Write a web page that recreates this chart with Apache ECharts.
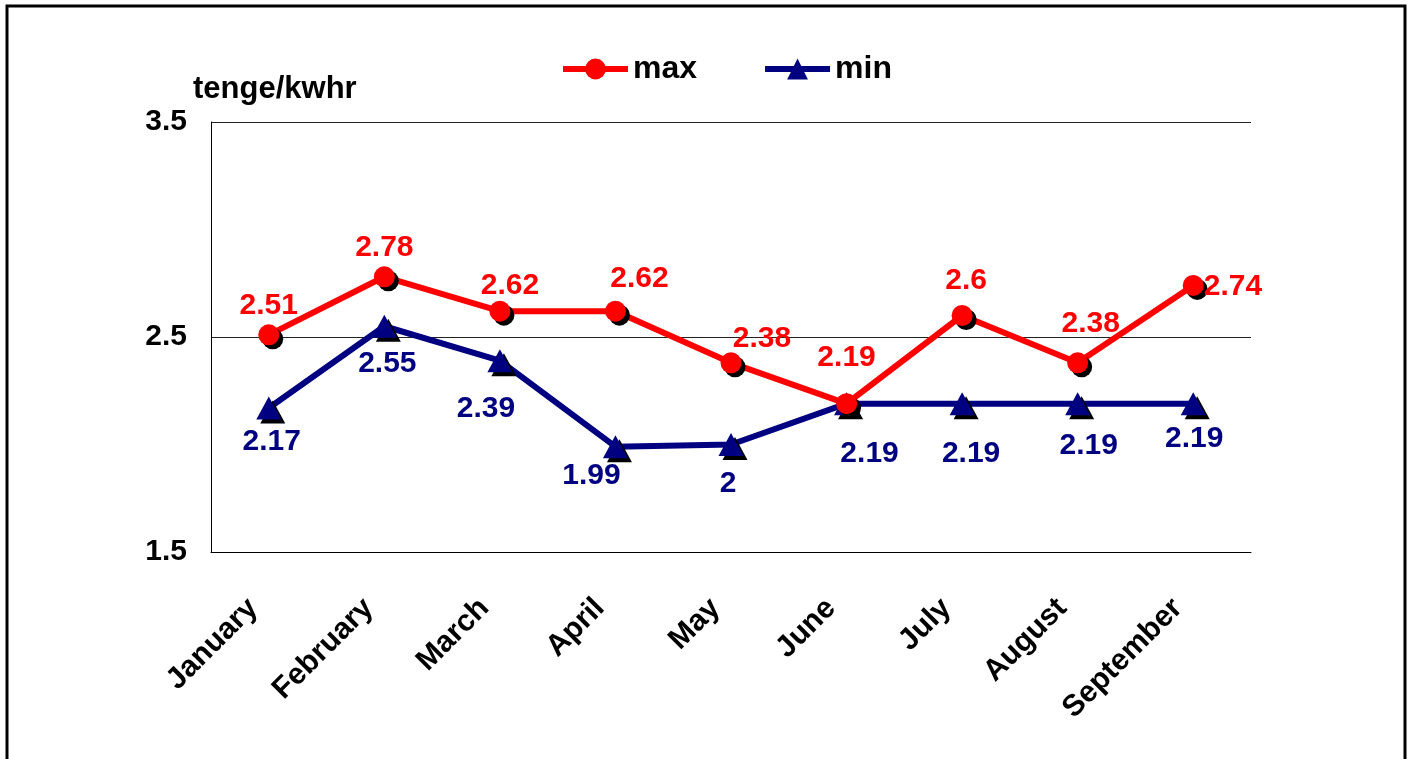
<!DOCTYPE html>
<html>
<head>
<meta charset="utf-8">
<script src="https://cdn.jsdelivr.net/npm/echarts@6/dist/echarts.min.js"></script>
<style>
html,body{margin:0;padding:0;background:#fff;}
#c{width:1411px;height:759px;}
</style>
</head>
<body>
<div id="c"></div>
<script>
const months = ['January','February','March','April','May','June','July','August','September'];
const maxValues = [2.51, 2.78, 2.62, 2.62, 2.38, 2.19, 2.6, 2.38, 2.74];
const minValues = [2.17, 2.55, 2.39, 1.99, 2, 2.19, 2.19, 2.19, 2.19];
const yTicks = [1.5, 2.5, 3.5];
const yTitle = 'tenge/kwhr';

// label layout (style only)
const maxLabelPos = ['top','top','top','top','top','top','top','top','right'];
const maxLabelOff = [[0,0],[0,0],[10,4],[24,-3],[31,5],[0,-16],[4,-5],[13,-10],[-4,1]];
const minLabelOff = [[3,3],[3,7],[-14,18],[-24,-1],[-3,9],[23,20],[9,20],[11,12],[1,5]];

const FONT = '"Liberation Sans", Arial, sans-serif';
const RED = '#ff0000';
const NAVY = '#000080';

const chart = echarts.init(document.getElementById('c'), null, {renderer:'canvas'});

const shadow = {shadowColor:'#000', shadowBlur:0, shadowOffsetX:4, shadowOffsetY:4};

const maxData = maxValues.map((v,i)=>({
  value:v,
  label:{position:maxLabelPos[i], offset:maxLabelOff[i]}
}));
const minData = minValues.map((v,i)=>({
  value:v,
  label:{position:'bottom', offset:minLabelOff[i]}
}));

chart.setOption({
  animation:false,
  backgroundColor:'#fff',
  textStyle:{fontFamily:FONT},
  graphic:[
    {type:'rect', shape:{x:7, y:6, width:1398, height:820}, style:{fill:'none', stroke:'#000', lineWidth:3}, z:-1},
    {type:'text', left:193, top:74, style:{text:yTitle, font:'bold 31px '+FONT, fill:'#000'}}
  ],
  legend:{
    top:48, left:555,
    itemWidth:65, itemHeight:26, itemGap:65,
    lineStyle:{width:6},
    textStyle:{fontSize:32, fontWeight:'bold', color:'#000', fontFamily:FONT},
    data:['max','min']
  },
  grid:{left:211, right:160, top:122, bottom:207, containLabel:false},
  xAxis:{
    type:'category',
    data:months,
    boundaryGap:true,
    axisLine:{show:true, lineStyle:{color:'#000', width:1}},
    axisTick:{show:false},
    axisLabel:{rotate:45, margin:36, padding:[0,22,0,0], fontSize:30, fontWeight:'bold', color:'#000', fontFamily:FONT, interval:0}
  },
  yAxis:{
    type:'value',
    min:yTicks[0], max:yTicks[yTicks.length-1], interval:1,
    axisLine:{show:true, lineStyle:{color:'#000', width:1}},
    axisTick:{show:false},
    splitLine:{show:true, lineStyle:{color:'#222', width:1}},
    axisLabel:{margin:24, fontSize:30, fontWeight:'bold', color:'#000', fontFamily:FONT,
      formatter:v=>String(v)}
  },
  series:[
    {
      name:'max', type:'line', data:maxData,
      symbol:'circle', symbolSize:21,
      lineStyle:{color:RED, width:6},
      itemStyle:Object.assign({color:RED}, shadow),
      label:{show:true, fontSize:30, fontWeight:'bold', color:RED, fontFamily:FONT, distance:4},
      z:3
    },
    {
      name:'min', type:'line', data:minData,
      symbol:'triangle', symbolSize:[25,23],
      lineStyle:{color:NAVY, width:6},
      itemStyle:Object.assign({color:NAVY}, shadow),
      label:{show:true, fontSize:30, fontWeight:'bold', color:NAVY, fontFamily:FONT, distance:4},
      z:2
    }
  ]
});
</script>
</body>
</html>
